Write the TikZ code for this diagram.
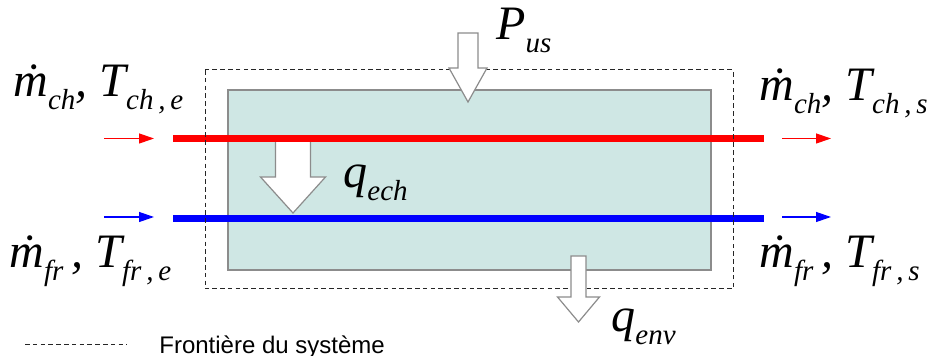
\documentclass[tikz,border=0pt]{standalone}
\usepackage{fontspec}
\setmainfont{Liberation Serif}
\newfontfamily\legendfont{Liberation Sans}
\usepackage{tikz}
\usetikzlibrary{arrows.meta}
\definecolor{echfill}{RGB}{207,231,228}
\definecolor{echline}{RGB}{140,140,140}

% indice abaisse
\newcommand{\ind}[1]{\raisebox{-6.5pt}{\fontsize{14.5}{15}\selectfont\itshape #1}}
% grosse fleche vers le bas : x, y haut, demi-largeur tige, y tete, demi-largeur tete, y pointe
\newcommand{\grossefleche}[6]{%
  \draw[bigarrow] (#1-#3,#2) -- (#1+#3,#2) -- (#1+#3,#4) -- (#1+#5,#4)
    -- (#1,#6) -- (#1-#5,#4) -- (#1-#3,#4) -- cycle;}

\begin{document}
\begin{tikzpicture}[x=0.5pt, y=-0.5pt]
    \tikzstyle{label} = [inner sep=0pt, anchor=base west, font=\fontsize{24}{26}\selectfont\itshape]
    \tikzstyle{pipe} = [line width=3.6pt]
    \tikzstyle{flow} = [line width=0.6pt, -{Triangle[length=7.5pt,width=5pt]}]
    \tikzstyle{border} = [dash pattern=on 2.3pt off 1.6pt, line width=0.5pt, black!85]
    \tikzstyle{bigarrow} = [fill=white, draw=echline, line width=0.6pt]

    \useasboundingbox (0,0) rectangle (930,356);

    % echangeur
    \filldraw[fill=echfill, draw=echline, line width=0.6pt] (228,90) rectangle (711,270);
    \grossefleche{293}{141}{17.5}{177}{32.5}{213}

    % conduites
    \coordinate (chA) at (173,138.5);
    \coordinate (chB) at (764,138.5);
    \coordinate (frA) at (173,218.5);
    \coordinate (frB) at (764,218.5);
    \draw[pipe, red] (chA) -- (chB);
    \draw[pipe, blue] (frA) -- (frB);

    % frontiere du systeme
    \draw[border] (205,70) rectangle (733,289);

    \grossefleche{468}{33}{10}{68}{19}{102}
    \grossefleche{578.5}{256}{7.5}{297}{21}{322}

    % sens des debits
    \coordinate (chin1) at (104,138.5);
    \coordinate (chin2) at (154,138.5);
    \coordinate (chout1) at (782,138.5);
    \coordinate (chout2) at (831,138.5);
    \coordinate (frin1) at (104,217);
    \coordinate (frin2) at (154,217);
    \coordinate (frout1) at (782,217);
    \coordinate (frout2) at (831,217);
    \draw[flow, red] (chin1) -- (chin2);
    \draw[flow, red] (chout1) -- (chout2);
    \draw[flow, blue] (frin1) -- (frin2);
    \draw[flow, blue] (frout1) -- (frout2);

    % grandeurs
    \node[label] (chin) at (13,97) {\.{m}\ind{ch}, T\ind{ch\,,\,e}};
    \node[label] (chout) at (759,101) {\.{m}\ind{ch}, T\ind{ch\,,\,s}};
    \node[label] (frin) at (9,268) {\.{m}\ind{fr}\,, T\ind{fr\,,\,e}};
    \node[label] (frout) at (759,268) {\.{m}\ind{fr}\,, T\ind{fr\,,\,s}};
    \node[label] (pus) at (496,40) {P\ind{us}};
    \node[label] (qech) at (343,188) {q\ind{ech}};
    \node[label] (qenv) at (611,332) {q\ind{env}};

    % legende
    \coordinate (leg1) at (25,345);
    \coordinate (leg2) at (127,345);
    \draw[border] (leg1) -- (leg2);
    \node[inner sep=0pt, anchor=base west, font=\legendfont\fontsize{12}{14}\selectfont] (legtext) at (159,354) {Frontière du système};
\end{tikzpicture}
\end{document}
